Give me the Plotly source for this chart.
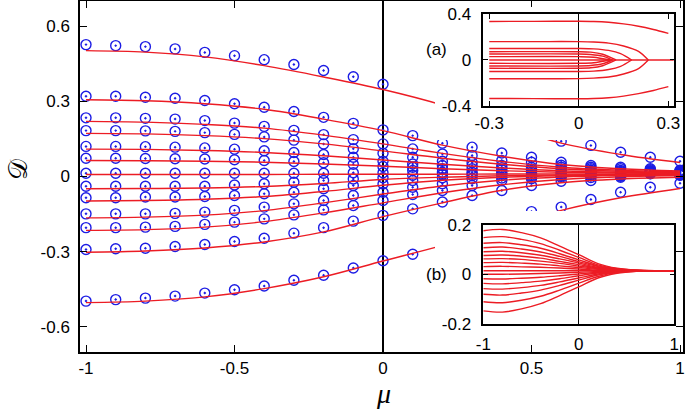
import plotly.graph_objects as go

# ---------------- data ----------------
mu_grid = [-1.0, -0.9, -0.8, -0.7, -0.6, -0.5, -0.4, -0.3, -0.2, -0.1, 0.0,
           0.1, 0.2, 0.3, 0.4, 0.5, 0.6, 0.7, 0.8, 0.9, 1.0]

# blue circles (one list per branch, values of D at mu_grid)
circ_1 = [.526, .522, .518, .509, .495, .482, .466, .447, .423, .398, .368, None, None, None, None, None, .141, .124, .097, .077, .061]
circ_2 = [.320, .320, .316, .312, .303, .290, .276, .259, .236, .212, .186, .163, .133, .117, .094, .077, .057, .044, .037, .031, .025]
circ_3 = [.234, .234, .232, .229, .223, .213, .200, .184, .167, .147, .130, .110, .090, .084, .064, .057, .045, .037, .031, .027, .022]
circ_4 = [.183, .183, .182, .180, .175, .168, .158, .145, .130, .111, .093, .077, .061, .057, .044, .037, .037, .031, .024, .023, .020]
circ_5 = [.120, .120, .119, .117, .114, .109, .103, .096, .088, .077, .061, .050, .044, .044, .035, .030, .030, .025, .020, .021, .018]
circ_6 = [.073, .073, .072, .071, .070, .067, .064, .060, .055, .049, .040, .037, .031, .031, .027, .024, .024, .020, .016, .019, .016]
circ_7 = [.013, .013, .013, .013, .013, .013, .013, .013, .013, .015, .015, .024, .017, .017, .017, .017, .017, .017, .013, .017, .014]
circ_8 = [-.039, -.039, -.039, -.039, -.039, -.034, -.029, -.023, -.016, -.010, -.005, .005, .008, .010, .010, .011, .011, .012, .011, .015, .012]
circ_9 = [-.085, -.085, -.082, -.082, -.080, -.076, -.069, -.063, -.049, -.036, -.030, -.016, -.005, .004, .004, .005, .006, .008, .008, .014, .010]
circ_10 = [-.149, -.149, -.149, -.147, -.142, -.135, -.122, -.109, -.096, -.076, -.063, -.043, -.029, -.009, -.006, -.002, .002, .004, .004, .013, .008]
circ_11 = [-.204, -.204, -.202, -.199, -.191, -.182, -.169, -.153, -.133, -.116, -.096, -.072, -.056, -.036, -.016, -.009, -.003, -.004, .001, .012, .006]
circ_12 = [-.291, -.288, -.286, -.279, -.271, -.259, -.246, -.226, -.204, -.178, -.155, -.129, -.102, -.076, -.056, -.036, -.019, -.016, -.003, .011, .005]
circ_13 = [-.497, -.491, -.485, -.477, -.465, -.452, -.437, -.414, -.394, -.365, -.336, -.310, None, None, None, -.140, -.122, -.092, -.063, -.043, -.027]

# red curves (values of D at mu_knots)
mu_knots = [-1.0, -0.8, -0.6, -0.4, -0.2, 0.0, 0.2, 0.4, 0.6, 0.8, 1.0]
line_1 = [.502, .496, .477, .442, .397, .347, .285, .205, .133, .088, .056]
line_2 = [.306, .302, .290, .268, .229, .183, .125, .081, .048, .031, .022]
line_3 = [.220, .217, .208, .193, .165, .130, .092, .060, .037, .025, .018]
line_4 = [.172, .170, .163, .151, .130, .102, .073, .049, .031, .021, .016]
line_5 = [.109, .108, .104, .096, .083, .066, .049, .034, .023, .017, .014]
line_6 = [.064, .063, .061, .057, .050, .041, .031, .023, .017, .014, .012]
line_7 = [.008, .008, .008, .008, .009, .009, .009, .010, .010, .010, .010]
line_8 = [-.049, -.048, -.046, -.040, -.028, -.012, -.003, .003, .006, .008, .009]
line_9 = [-.098, -.096, -.091, -.080, -.060, -.035, -.015, -.003, .003, .006, .007]
line_10 = [-.165, -.162, -.154, -.136, -.105, -.070, -.038, -.015, -.002, .004, .006]
line_11 = [-.215, -.212, -.202, -.180, -.145, -.105, -.065, -.033, -.012, -.001, .004]
line_12 = [-.302, -.297, -.285, -.261, -.221, -.160, -.105, -.055, -.025, -.010, -.003]
line_13 = [-.503, -.497, -.480, -.447, -.400, -.337, -.275, -.200, -.135, -.085, -.048]

# inset (a): branches (mu, D)
a1_mu = [-0.3, -0.15, 0.0, 0.05, 0.1, 0.15, 0.2, 0.25, 0.3]
a1_up = [.335, .336, .337, .335, .328, .314, .293, .265, .232]
a1_dn = [-.335, -.336, -.337, -.335, -.328, -.314, -.293, -.265, -.232]
a2_mu = [-0.3, -0.1, 0.0, 0.05, 0.1, 0.15, 0.2, 0.233]
a2_up = [.160, .160, .160, .157, .147, .122, .075, 0.0]
a2_dn = [-.163, -.163, -.162, -.158, -.148, -.122, -.075, 0.0]
a3_mu = [-0.3, -0.1, 0.0, 0.05, 0.1, 0.14, 0.177]
a3_up = [.100, .100, .100, .097, .083, .055, 0.0]
a3_dn = [-.100, -.100, -.100, -.097, -.083, -.055, 0.0]
a4_mu = [-0.3, 0.0, 0.04, 0.08, 0.125]
a4_up = [.072, .072, .068, .050, 0.0]
a4_dn = [-.072, -.072, -.068, -.050, 0.0]
a5_mu = [-0.3, 0.0, 0.04, 0.08, 0.113]
a5_up = [.052, .052, .048, .033, 0.0]
a5_dn = [-.052, -.052, -.048, -.033, 0.0]
a6_mu = [-0.3, 0.0, 0.05, 0.105]
a6_up = [.029, .029, .024, 0.0]
a6_dn = [-.029, -.029, -.024, 0.0]
a0_mu = [-0.3, 0.318]
a0_d = [0.0, 0.0]

# inset (b): curves at mu_knots
b_1 = [.177, .182, .169, .148, .115, .080, .044, .025, .017, .015, .015]
b_2 = [.149, .153, .142, .125, .098, .069, .039, .023, .017, .015, .015]
b_3 = [.126, .129, .120, .106, .084, .059, .035, .022, .017, .015, .015]
b_4 = [.108, .111, .103, .091, .073, .052, .032, .021, .016, .015, .015]
b_5 = [.092, .094, .088, .078, .063, .046, .029, .020, .016, .015, .015]
b_6 = [.077, .079, .074, .066, .053, .040, .026, .019, .016, .015, .015]
b_7 = [.063, .064, .061, .054, .045, .034, .024, .018, .016, .015, .015]
b_8 = [.048, .049, .046, .042, .035, .028, .021, .017, .015, .015, .015]
b_9 = [.032, .033, .031, .029, .026, .022, .018, .016, .015, .015, .015]
b_10 = [.015, .015, .015, .015, .015, .015, .015, .015, .015, .015, .015]
b_11 = [.001, .001, .002, .004, .006, .009, .012, .014, .015, .015, .015]
b_12 = [-.017, -.018, -.015, -.011, -.005, .002, .009, .013, .015, .015, .015]
b_13 = [-.036, -.038, -.033, -.027, -.017, -.005, .006, .012, .014, .015, .015]
b_14 = [-.057, -.059, -.053, -.044, -.030, -.014, .002, .011, .014, .015, .015]
b_15 = [-.080, -.083, -.075, -.063, -.044, -.023, -.002, .009, .014, .015, .015]
b_16 = [-.110, -.114, -.104, -.088, -.063, -.035, -.008, .008, .013, .015, .015]
b_17 = [-.147, -.152, -.139, -.118, -.085, -.050, -.014, .005, .013, .015, .015]

main_xticks = [-1, -0.5, 0, 0.5, 1]
main_xtext = ["-1", "-0.5", "0", "0.5", "1"]
main_yticks = [-0.6, -0.3, 0, 0.3, 0.6]
main_ytext = ["-0.6", "-0.3", "0", "0.3", "0.6"]
a_xticks, a_xtext = [-0.3, 0, 0.3], ["-0.3", "0", "0.3"]
a_yticks, a_ytext = [-0.4, 0, 0.4], ["-0.4", "0", "0.4"]
b_xticks, b_xtext = [-1, 0, 1], ["-1", "0", "1"]
b_yticks, b_ytext = [-0.2, 0, 0.2], ["-0.2", "0", "0.2"]

# ---------------- styles ----------------
RED = "rgb(236,28,36)"
BLUE = "rgb(28,28,228)"
LW = 1.4

fig = go.Figure()

circles = [circ_1, circ_2, circ_3, circ_4, circ_5, circ_6, circ_7, circ_8,
           circ_9, circ_10, circ_11, circ_12, circ_13]
for c in circles:
    fig.add_trace(go.Scatter(
        x=mu_grid, y=c, mode="markers", cliponaxis=False,
        marker=dict(symbol="circle-open-dot", size=10, color=BLUE,
                    line=dict(width=1.4, color=BLUE)),
        showlegend=False, hoverinfo="skip"))

lines = [line_1, line_2, line_3, line_4, line_5, line_6, line_7, line_8,
         line_9, line_10, line_11, line_12, line_13]
for l in lines:
    fig.add_trace(go.Scatter(
        x=mu_knots, y=l, mode="lines",
        line=dict(color=RED, width=LW, shape="spline", smoothing=1.0),
        showlegend=False, hoverinfo="skip"))

# opaque cover panels behind the insets (empty subplots)
fig.add_trace(go.Scatter(x=[], y=[], xaxis="x2", yaxis="y2", showlegend=False, hoverinfo="skip"))
fig.add_trace(go.Scatter(x=[], y=[], xaxis="x3", yaxis="y3", showlegend=False, hoverinfo="skip"))

# inset (a)
a_branches = [(a1_mu, a1_up), (a1_mu, a1_dn), (a2_mu, a2_up), (a2_mu, a2_dn),
              (a3_mu, a3_up), (a3_mu, a3_dn), (a4_mu, a4_up), (a4_mu, a4_dn),
              (a5_mu, a5_up), (a5_mu, a5_dn), (a6_mu, a6_up), (a6_mu, a6_dn),
              (a0_mu, a0_d)]
for xm, yd in a_branches:
    fig.add_trace(go.Scatter(
        x=xm, y=yd, mode="lines", xaxis="x4", yaxis="y4",
        line=dict(color=RED, width=LW, shape="spline", smoothing=0.8),
        showlegend=False, hoverinfo="skip"))

# inset (b)
for bl in [b_1, b_2, b_3, b_4, b_5, b_6, b_7, b_8, b_9, b_10, b_11, b_12,
           b_13, b_14, b_15, b_16, b_17]:
    fig.add_trace(go.Scatter(
        x=mu_knots, y=bl, mode="lines", xaxis="x5", yaxis="y5",
        line=dict(color=RED, width=LW, shape="spline", smoothing=1.0),
        showlegend=False, hoverinfo="skip"))


def axis(**kw):
    base = dict(showgrid=False, showline=True, linecolor="black", linewidth=1.5,
                mirror="ticks", ticks="inside", ticklen=7, tickwidth=1.2,
                tickcolor="black", zeroline=False, fixedrange=True,
                automargin=False,
                tickfont=dict(family="Liberation Sans, Arial, sans-serif",
                              size=17, color="black"))
    base.update(kw)
    return base


def cover(domain, anchor):
    return dict(domain=domain, anchor=anchor, visible=False, range=[0, 1],
                fixedrange=True, showgrid=False, zeroline=False,
                automargin=False)


fig.update_layout(
    width=685, height=409, autosize=False,
    margin=dict(l=80, r=2, t=1, b=57, pad=0, autoexpand=False),
    paper_bgcolor="white", plot_bgcolor="white", showlegend=False,
    font=dict(family="Liberation Sans, Arial, sans-serif", size=17, color="black"),
    xaxis=axis(range=[-1.0202, 1.0101], tickvals=main_xticks, ticktext=main_xtext,
               zeroline=True, zerolinecolor="black", zerolinewidth=1.5,
               ticklabelstandoff=0),
    yaxis=axis(range=[-0.7, 0.7], tickvals=main_yticks, ticktext=main_ytext,
               ticklabelstandoff=5),
    xaxis2=cover([0.5887, 0.9867], "y2"),
    yaxis2=cover([0.604, 0.983], "x2"),
    xaxis3=cover([0.5887, 0.9867], "y3"),
    yaxis3=cover([0.0256, 0.4017], "x3"),
    xaxis4=axis(domain=[0.6688, 0.9856], anchor="y4", range=[-0.32, 0.32],
                tickvals=a_xticks, ticktext=a_xtext, ticklen=5,
                zeroline=True, zerolinecolor="black", zerolinewidth=1.3,
                ticklabelstandoff=1),
    yaxis4=axis(domain=[0.7009, 0.963], anchor="x4", range=[-0.4, 0.4],
                tickvals=a_yticks, ticktext=a_ytext, ticklen=5,
                ticklabelstandoff=7),
    xaxis5=axis(domain=[0.6688, 0.9856], anchor="y5", range=[-1, 1],
                tickvals=b_xticks, ticktext=b_xtext, ticklen=5,
                zeroline=True, zerolinecolor="black", zerolinewidth=1.3,
                ticklabelstandoff=4),
    yaxis5=axis(domain=[0.0798, 0.3618], anchor="x5", range=[-0.2, 0.2],
                tickvals=b_yticks, ticktext=b_ytext, ticklen=5,
                ticklabelstandoff=7),
    annotations=[
        dict(text="(a)", xref="paper", yref="paper", x=0.5904, y=0.8604,
             xanchor="center", yanchor="middle",
             showarrow=False, font=dict(size=17)),
        dict(text="(b)", xref="paper", yref="paper", x=0.592, y=0.2222,
             xanchor="center", yanchor="middle",
             showarrow=False, font=dict(size=17)),
        dict(text="<i>μ</i>", xref="paper", yref="paper", x=0.5025, y=-0.117,
             xanchor="center", yanchor="middle",
             showarrow=False, font=dict(family="Liberation Serif, serif", size=28)),
        dict(text="𝒟", xref="paper", yref="paper", x=-0.1025, y=0.52,
             xanchor="center", yanchor="middle",
             showarrow=False, textangle=-90,
             font=dict(family="DejaVu Serif, serif", size=26)),
    ],
)

fig.write_html("out.html", config={"displayModeBar": False},
               post_script="document.body.style.margin='0';")
